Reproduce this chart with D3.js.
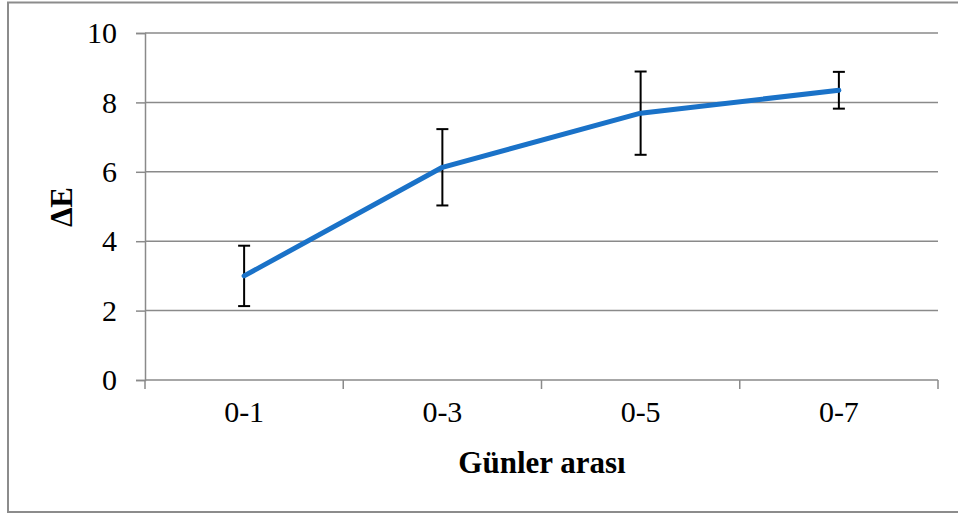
<!DOCTYPE html>
<html>
<head>
<meta charset="utf-8">
<script src="https://cdn.jsdelivr.net/npm/d3@7"></script>
<style>
  html, body { margin: 0; padding: 0; background: #fff; }
  svg { display: block; }
  svg text { font-family: "Liberation Serif", "DejaVu Serif", serif; }
</style>
</head>
<body>
<svg id="chart" width="958" height="515"></svg>
<script>
// Colour difference (ΔE) by day range, with standard deviations
const categories = ["0-1", "0-3", "0-5", "0-7"];
const deltaE = [3.0, 6.13, 7.69, 8.35];
const errors = [0.87, 1.10, 1.20, 0.53];
const yTicks = [0, 2, 4, 6, 8, 10];
const xTitle = "Günler arası";
const yTitle = "ΔE";

const svg = d3.select("#chart");
const serif = "Liberation Serif, DejaVu Serif, serif";

// outer frame
svg.append("rect")
  .attr("x", 8).attr("y", 2.5)
  .attr("width", 960).attr("height", 509.5)
  .attr("fill", "#fff").attr("stroke", "#8c8c8c").attr("stroke-width", 2);

const x = d3.scaleBand().domain(categories).range([145, 938]);
const y = d3.scaleLinear().domain([0, 10]).range([380, 33]);

// horizontal gridlines
svg.append("g").selectAll("line").data(yTicks.filter(d => d > 0)).join("line")
  .attr("x1", 145).attr("x2", 938)
  .attr("y1", d => y(d)).attr("y2", d => y(d))
  .attr("stroke", "#8a8a8a").attr("stroke-width", 1.5);

// y axis
const yAxis = svg.append("g").attr("transform", "translate(145,0)")
  .call(d3.axisLeft(y).tickValues(yTicks).tickSize(9).tickPadding(19));
yAxis.attr("font-family", null);
yAxis.select(".domain").attr("stroke", "#8a8a8a").attr("stroke-width", 1.5);
yAxis.selectAll(".tick line").attr("stroke", "#8a8a8a").attr("stroke-width", 1.5);
yAxis.selectAll("text").style("font-family", serif).style("font-size", "30px").attr("fill", "#000");

// x axis with ticks at the band edges
const xAxis = svg.append("g").attr("transform", "translate(0,380)")
  .call(d3.axisBottom(x).tickSize(0).tickPadding(21));
xAxis.attr("font-family", null);
xAxis.select(".domain").attr("stroke", "#8a8a8a").attr("stroke-width", 1.5)
  .attr("d", "M145,0H938");
xAxis.selectAll("text").style("font-family", serif).style("font-size", "30px").attr("fill", "#000");
const edges = categories.map(c => x(c)).concat([x.range()[1]]);
svg.append("g").selectAll("line").data(edges).join("line")
  .attr("x1", d => d).attr("x2", d => d)
  .attr("y1", 380).attr("y2", 389)
  .attr("stroke", "#8a8a8a").attr("stroke-width", 1.5);

const cx = c => x(c) + x.bandwidth() / 2;

// error bars
const eb = svg.append("g").attr("stroke", "#000").attr("stroke-width", 2);
categories.forEach((c, i) => {
  const hi = y(deltaE[i] + errors[i]), lo = y(deltaE[i] - errors[i]);
  eb.append("line").attr("x1", cx(c)).attr("x2", cx(c)).attr("y1", hi).attr("y2", lo);
  eb.append("line").attr("x1", cx(c) - 6).attr("x2", cx(c) + 6).attr("y1", hi).attr("y2", hi);
  eb.append("line").attr("x1", cx(c) - 6).attr("x2", cx(c) + 6).attr("y1", lo).attr("y2", lo);
});

// data line
const line = d3.line().x((d, i) => cx(categories[i])).y(d => y(d));
svg.append("path").datum(deltaE)
  .attr("d", line)
  .attr("fill", "none").attr("stroke", "#1a72c8").attr("stroke-width", 5)
  .attr("stroke-linecap", "round").attr("stroke-linejoin", "round");

// axis titles
svg.append("text")
  .attr("x", 542).attr("y", 473)
  .attr("text-anchor", "middle")
  .style("font-family", serif).style("font-size", "31px").attr("font-weight", "bold")
  .text(xTitle);

svg.append("text")
  .attr("transform", "translate(72,207) rotate(-90)")
  .attr("text-anchor", "middle")
  .style("font-family", serif).style("font-size", "31px").attr("font-weight", "bold")
  .text(yTitle);
</script>
</body>
</html>
